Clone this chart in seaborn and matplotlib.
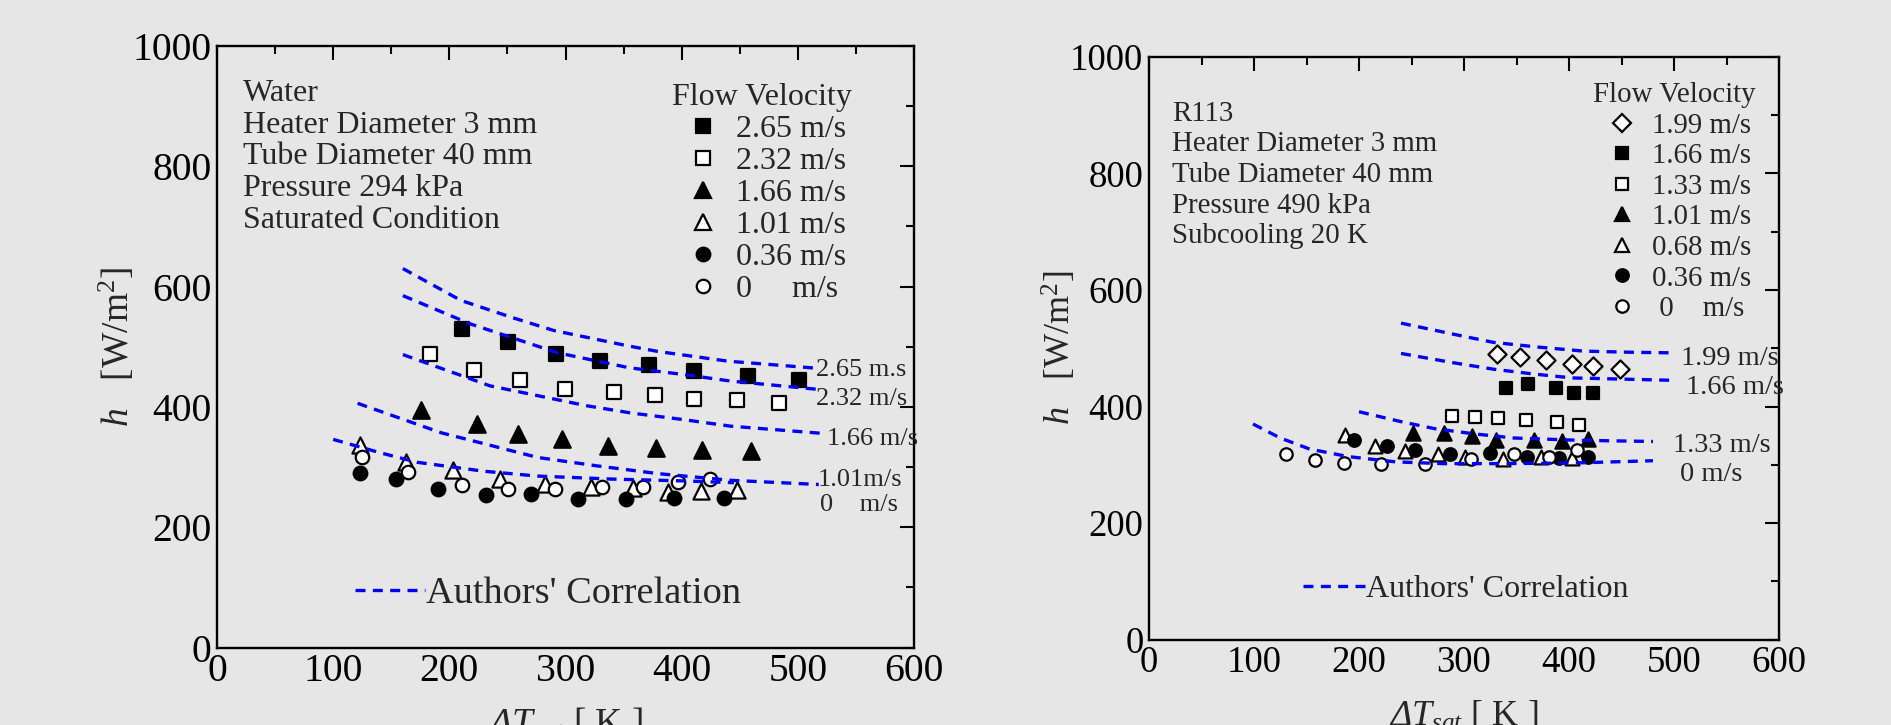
import matplotlib
matplotlib.use('Agg')
import matplotlib.pyplot as plt
import seaborn as sns
from matplotlib.lines import Line2D
from matplotlib.ticker import MultipleLocator

# ---------------- data: Water (left panel) ----------------
water_labels = ['2.65 m/s', '2.32 m/s', '1.66 m/s', '1.01 m/s', '0.36 m/s', '0     m/s']
water_x = [
    [210.6, 250.9, 291.8, 329.7, 371.9, 410.6, 457.0, 501.2],
    [183.4, 221.5, 260.8, 299.6, 341.7, 377.0, 410.2, 447.4, 483.4],
    [175.3, 223.5, 258.7, 296.6, 336.9, 377.6, 417.8, 460.0],
    [123.1, 162.7, 203.4, 243.6, 282.3, 321.9, 358.4, 388.5, 416.4, 447.4],
    [123.1, 154.1, 190.5, 231.6, 270.3, 311.0, 351.7, 393.1, 436.2],
    [125.1, 164.7, 210.6, 250.9, 291.0, 331.1, 366.4, 396.5, 424.4],
]
water_y = [
    [529.9, 507.6, 488.4, 476.1, 469.0, 459.5, 451.2, 444.1],
    [487.2, 461.2, 444.6, 430.3, 425.3, 419.7, 413.7, 411.4, 405.9],
    [394.3, 371.5, 354.9, 347.3, 334.5, 331.2, 327.9, 326.2],
    [336.2, 308.5, 295.2, 279.7, 272.5, 267.0, 265.9, 258.7, 260.3, 262.0],
    [289.7, 279.7, 264.3, 253.2, 254.8, 246.5, 247.7, 249.3, 249.3],
    [317.4, 291.8, 270.3, 263.1, 264.3, 267.6, 267.0, 275.9, 280.9],
]
# Authors' correlation curves (water)
water_curve_labels = ['2.65 m.s', '2.32 m/s', '1.66 m/s', '1.01m/s', '0    m/s']
water_curve_x = [
    [160, 210, 255, 290, 355, 380, 440, 518],
    [160, 218, 251, 293, 355, 401, 442, 518],
    [160, 235, 318, 356, 401, 442, 521],
    [121, 193, 276, 327, 380, 442, 518],
    [100, 140, 172, 230, 276, 340, 401, 445],
]
water_curve_y = [
    [630, 577, 548, 527, 501, 492, 476, 464],
    [585, 538, 517, 490, 465, 454, 443, 429],
    [487, 435, 402, 390, 379, 368, 356],
    [406, 357, 316, 302, 289, 278, 271],
    [346, 324, 308, 293, 285, 280, 277, 274],
]
water_curve_label_pos = [(515.8, 462), (515.8, 413), (525, 346), (516.7, 279), (519, 237)]
water_info = ['Water', 'Heater Diameter 3 mm', 'Tube Diameter 40 mm',
              'Pressure 294 kPa', 'Saturated Condition']

# ---------------- data: R113 (right panel) ----------------
r113_labels = ['1.99 m/s', '1.66 m/s', '1.33 m/s', '1.01 m/s', '0.68 m/s', '0.36 m/s', ' 0    m/s']
r113_x = [
    [331.8, 353.8, 378.0, 402.7, 422.4, 449.0],
    [340.0, 361.1, 387.2, 404.6, 423.3],
    [288.8, 310.8, 332.3, 358.8, 388.1, 409.2],
    [251.0, 280.6, 307.5, 330.3, 367.0, 393.0, 418.1],
    [186.7, 215.6, 243.5, 275.5, 300.7, 336.8, 372.9, 402.7],
    [195.0, 226.8, 253.7, 286.6, 324.7, 360.2, 390.1, 418.1],
    [130.9, 158.4, 185.4, 221.0, 263.2, 306.6, 347.8, 380.8, 407.3],
]
r113_y = [
    [490.5, 484.1, 480.2, 472.2, 469.0, 464.3],
    [432.5, 438.9, 432.5, 423.8, 423.8],
    [383.3, 382.5, 380.2, 377.0, 373.8, 369.0],
    [354.5, 354.5, 350.0, 343.2, 343.2, 340.9, 344.3],
    [351.6, 333.0, 324.0, 318.0, 313.5, 310.5, 314.0, 311.2],
    [342.0, 331.7, 325.5, 318.5, 319.5, 314.0, 312.0, 314.0],
    [318.5, 308.5, 303.3, 301.6, 302.0, 310.5, 319.0, 313.3, 326.0],
]
r113_curve_labels = ['1.99 m/s', '1.66 m/s', '1.33 m/s', '0 m/s']
r113_curve_x = [
    [240, 290, 328, 370, 414, 460, 500],
    [240, 290, 328, 365, 403, 450, 497],
    [200, 240, 272, 310, 347, 410, 480],
    [99, 125, 153, 190, 235, 280, 328, 403, 480],
]
r113_curve_y = [
    [543, 524, 510, 502, 495, 493, 492],
    [491, 475, 464, 456, 449, 447, 445],
    [391, 374, 362, 353, 346, 342, 340],
    [370, 346, 327, 314, 305, 302, 302, 303, 307],
]
r113_curve_label_pos = [(507, 482), (511.6, 432.5), (498.9, 333.3), (505.7, 283.3)]
r113_info = ['R113', 'Heater Diameter 3 mm', 'Tube Diameter 40 mm',
             'Pressure 490 kPa', 'Subcooling 20 K']

x_ticks = [0, 100, 200, 300, 400, 500, 600]
y_ticks = [0, 200, 400, 600, 800, 1000]

# ---------------- styles ----------------
water_styles = [('s', 'black', 92), ('s', 'white', 90), ('^', 'black', 140),
                ('^', 'white', 135), ('o', 'black', 96), ('o', 'white', 94)]
r113_styles = [('D', 'white', 85), ('s', 'black', 70), ('s', 'white', 68),
               ('^', 'black', 105), ('^', 'white', 100), ('o', 'black', 82),
               ('o', 'white', 80)]

BG = '#e6e6e6'
BLUE = '#0000ff'
DASH = (0, (3.0, 2.2))

sns.set_theme(style='white')
plt.rcParams['font.family'] = ['Liberation Serif', 'DejaVu Serif']
plt.rcParams['mathtext.fontset'] = 'custom'
plt.rcParams['mathtext.rm'] = 'Liberation Serif'
plt.rcParams['mathtext.it'] = 'Liberation Serif:italic'
plt.rcParams['mathtext.bf'] = 'Liberation Serif:bold'
# italic slot used for the Greek capital (mathtext forces Greek capitals upright in 'it')
plt.rcParams['mathtext.sf'] = 'Liberation Serif:italic'

fig = plt.figure(figsize=(18.91, 7.25), dpi=100, facecolor=BG)
axL = fig.add_axes([217 / 1891, 1 - 647.5 / 725, 697 / 1891, 601.5 / 725])
axR = fig.add_axes([1149 / 1891, 1 - 639.7 / 725, 630 / 1891, 583 / 725])


def style_axes(ax, tick_fs):
    ax.set_facecolor(BG)
    ax.set_xlim(0, 600)
    ax.set_ylim(0, 1000)
    ax.set_xticks(x_ticks)
    ax.set_yticks(y_ticks)
    ax.xaxis.set_minor_locator(MultipleLocator(50))
    ax.yaxis.set_minor_locator(MultipleLocator(100))
    for sp in ax.spines.values():
        sp.set_visible(True)
        sp.set_color('black')
        sp.set_linewidth(1.7)
    ax.tick_params(which='both', direction='in', top=True, right=True,
                   colors='black', width=1.5)
    ax.tick_params(which='major', length=10, labelsize=tick_fs, pad=4)
    ax.tick_params(which='minor', length=5.5)
    ax.grid(False)


def draw_panel(ax, xs, ys, styles, cxs, cys, tick_fs):
    style_axes(ax, tick_fs)
    for x, y, (m, fc, s) in zip(xs, ys, styles):
        sns.scatterplot(x=x, y=y, ax=ax, marker=m, s=s, color=fc,
                        edgecolor='black', linewidth=1.6, zorder=3, legend=False)
    for cx, cy in zip(cxs, cys):
        sns.lineplot(x=cx, y=cy, ax=ax, color=BLUE, linewidth=2.4, sort=False,
                     estimator=None, linestyle=DASH, zorder=4, legend=False)


draw_panel(axL, water_x, water_y, water_styles, water_curve_x, water_curve_y, 28.5)
draw_panel(axR, r113_x, r113_y, r113_styles, r113_curve_x, r113_curve_y, 26.5)

# curve labels
for lab, (px, py) in zip(water_curve_labels, water_curve_label_pos):
    axL.text(px, py, lab, fontsize=19, ha='left', va='center', clip_on=False, zorder=5)
for lab, (px, py) in zip(r113_curve_labels, r113_curve_label_pos):
    axR.text(px, py, lab, fontsize=20.5, ha='left', va='center', clip_on=False, zorder=5)

# info text blocks
for i, line in enumerate(water_info):
    axL.text(0.0377, 0.909 - i * 0.053, line, transform=axL.transAxes,
             fontsize=23, ha='left', va='baseline')
for i, line in enumerate(r113_info):
    axR.text(0.036, 0.8902 - i * 0.05257, line, transform=axR.transAxes,
             fontsize=20.8, ha='left', va='baseline')


def make_handles(styles):
    hs = []
    for m, fc, s in styles:
        hs.append(Line2D([], [], marker=m, linestyle='none', markerfacecolor=fc,
                         markeredgecolor='black', markeredgewidth=1.6,
                         markersize=s ** 0.5))
    return hs


legL = axL.legend(make_handles(water_styles), water_labels, title='Flow Velocity',
                  loc='upper left', bbox_to_anchor=(0.6532, 0.938), frameon=False,
                  fontsize=23, title_fontsize=23, alignment='left',
                  handlelength=1.906, handletextpad=0.09, labelspacing=0.082,
                  borderpad=0, borderaxespad=0)
axL.add_artist(legL)
corrL = axL.legend([Line2D([], [], color=BLUE, linewidth=2.4, linestyle=DASH)],
                   ["Authors' Correlation"], loc='center left',
                   bbox_to_anchor=(0.198, 0.089), frameon=False, fontsize=27.6,
                   handlelength=1.82, handletextpad=0.02, borderpad=0, borderaxespad=0)

legR = axR.legend(make_handles(r113_styles), r113_labels, title='Flow Velocity',
                  loc='upper left', bbox_to_anchor=(0.705, 0.9563), frameon=False,
                  fontsize=20.8, title_fontsize=20.8, alignment='left',
                  handlelength=1.965, handletextpad=0.055, labelspacing=0.15,
                  borderpad=0, borderaxespad=0)
axR.add_artist(legR)
corrR = axR.legend([Line2D([], [], color=BLUE, linewidth=2.4, linestyle=DASH)],
                   ["Authors' Correlation"], loc='center left',
                   bbox_to_anchor=(0.244, 0.0865), frameon=False, fontsize=23,
                   handlelength=1.95, handletextpad=0.02, borderpad=0, borderaxespad=0)

# axis labels
xlab = r'$\mathsf{\Delta}T_{sat}$ [ K ]'
axL.set_ylabel(r'$h$   [W/m$^2$]', fontsize=27)
axL.yaxis.set_label_coords(-0.1148, 0.5)
axL.set_xlabel(xlab, fontsize=27)
axL.xaxis.set_label_coords(0.5, -0.097)

axR.set_ylabel(r'$h$   [W/m$^2$]', fontsize=26)
axR.yaxis.set_label_coords(-0.112, 0.5)
axR.set_xlabel(xlab, fontsize=26)
axR.xaxis.set_label_coords(0.5, -0.103)

fig.savefig('out.png', dpi=100, facecolor=BG)
